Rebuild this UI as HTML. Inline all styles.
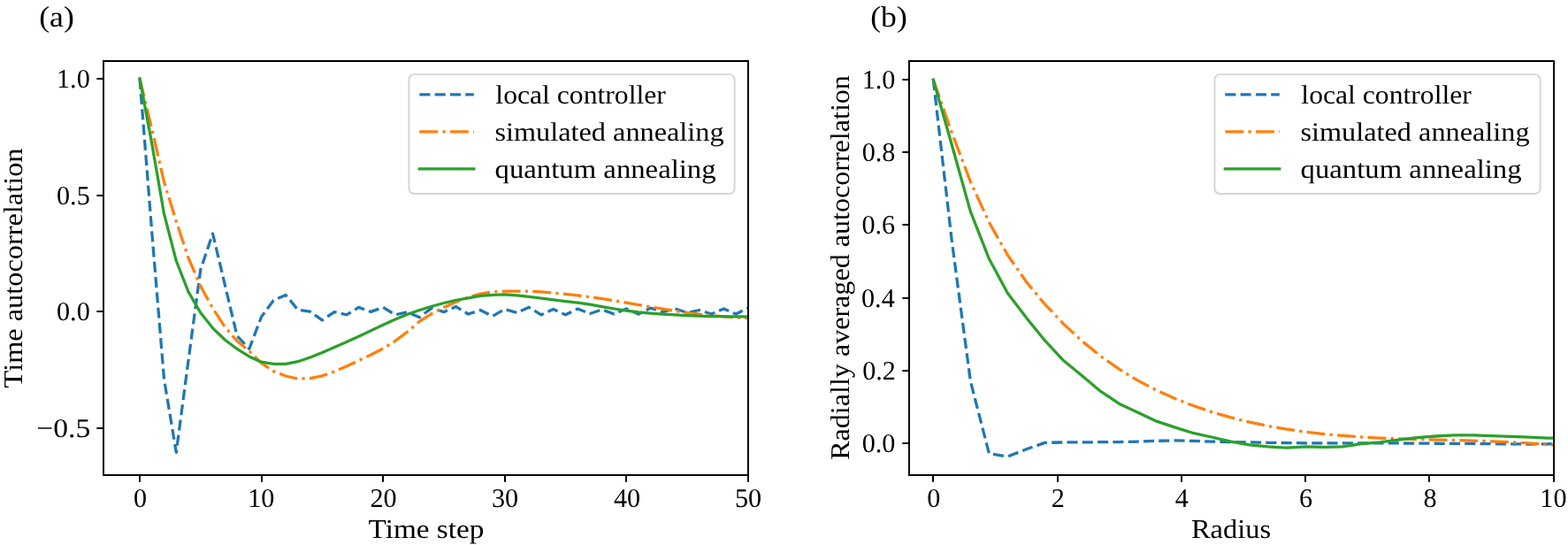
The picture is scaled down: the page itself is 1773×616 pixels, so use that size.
<!DOCTYPE html>
<html><head><meta charset="utf-8"><title>Autocorrelation plots</title>
<style>html,body{margin:0;padding:0;background:#fff;}svg{display:block;}</style>
</head><body>
<svg width="1773" height="616" viewBox="0 0 1773 616" text-rendering="geometricPrecision">
<rect width="1773" height="616" fill="#fff"/>
<defs><clipPath id="ca"><rect x="117.0" y="69.0" width="729.0" height="468.0"/></clipPath><clipPath id="cb"><rect x="1028.0" y="69.0" width="729.0" height="468.0"/></clipPath></defs>
<g clip-path="url(#ca)" fill="none" stroke-width="3.27">
<polyline points="158.00,88.90 171.76,262.61 185.51,428.43 199.27,511.34 213.02,407.37 226.78,304.72 240.54,263.93 254.29,321.83 268.05,379.74 281.80,394.21 295.56,358.15 309.32,339.47 323.07,333.41 336.83,350.26 350.58,352.10 364.34,361.84 378.10,352.63 391.85,355.78 405.61,347.36 419.36,352.36 433.12,347.36 446.88,355.78 460.63,352.63 474.39,358.68 488.14,348.15 501.90,352.63 515.66,346.57 529.41,355.00 543.17,350.52 556.92,357.36 570.68,349.47 584.44,353.42 598.19,347.36 611.95,355.78 625.70,349.47 639.46,355.78 653.22,348.94 666.97,354.47 680.73,349.99 694.48,355.00 708.24,348.94 722.00,355.00 735.75,348.15 749.51,352.63 763.26,348.94 777.02,353.42 790.78,350.52 804.53,355.00 818.29,348.94 832.04,355.00 845.80,348.15" stroke="#1f77b4" stroke-dasharray="12.08 5.22" stroke-linejoin="round" stroke-linecap="butt"/>
<polyline points="158.00,88.90 171.76,145.75 185.51,205.73 199.27,250.20 213.02,291.50 226.78,323.39 240.54,348.38 254.29,369.34 268.05,385.51 281.80,396.84 295.56,410.32 309.32,419.61 323.07,425.01 336.83,428.16 350.58,427.61 364.34,424.89 378.10,419.85 391.85,414.01 405.61,407.50 419.36,401.01 433.12,393.94 446.88,385.40 460.63,375.05 474.39,363.20 488.14,354.57 501.90,347.52 515.66,341.34 529.41,336.08 543.17,332.07 556.92,330.06 570.68,329.20 584.44,329.20 598.19,329.21 611.95,329.87 625.70,331.07 639.46,332.34 653.22,333.89 666.97,335.63 680.73,337.63 694.48,339.80 708.24,342.14 722.00,344.58 735.75,346.89 749.51,349.14 763.26,351.25 777.02,353.33 790.78,355.19 804.53,356.58 818.29,357.79 832.04,358.78 845.80,359.47" stroke="#ff7f0e" stroke-dasharray="20.90 5.22 3.27 5.22" stroke-linejoin="round" stroke-linecap="butt"/>
<polyline points="158.00,88.90 171.76,162.60 185.51,241.70 199.27,294.72 213.02,329.94 226.78,353.53 240.54,370.81 254.29,384.00 268.05,394.46 281.80,402.90 295.56,409.18 309.32,411.32 323.07,411.32 336.83,408.69 350.58,403.98 364.34,398.51 378.10,392.59 391.85,386.51 405.61,380.23 419.36,373.80 433.12,367.25 446.88,361.04 460.63,355.30 474.39,350.49 488.14,346.28 501.90,342.51 515.66,339.24 529.41,336.83 543.17,334.34 556.92,333.30 570.68,332.89 584.44,333.84 598.19,335.40 611.95,337.05 625.70,338.86 639.46,340.53 653.22,342.21 666.97,344.23 680.73,346.68 694.48,349.00 708.24,351.06 722.00,352.86 735.75,354.11 749.51,355.07 763.26,355.86 777.02,356.63 790.78,357.23 804.53,357.51 818.29,357.71 832.04,357.84 845.80,357.89" stroke="#2ca02c" stroke-linejoin="round" stroke-linecap="square"/>
</g>
<g clip-path="url(#cb)" fill="none" stroke-width="3.27">
<polyline points="1055.30,90.10 1076.34,272.86 1097.38,430.98 1118.42,512.71 1139.46,516.00 1160.49,507.78 1181.53,500.39 1202.57,499.98 1223.61,499.82 1244.65,499.72 1265.69,499.57 1286.73,499.04 1307.77,498.30 1328.81,497.93 1349.85,498.42 1370.88,499.16 1391.92,499.59 1412.96,499.97 1434.00,500.29 1455.04,500.60 1476.08,500.80 1497.12,500.80 1518.16,500.80 1539.20,500.80 1560.24,500.83 1581.27,500.95 1602.31,501.12 1623.35,501.25 1644.39,501.36 1665.43,501.47 1686.47,501.62 1707.51,501.91 1728.55,502.02 1749.59,501.77 1770.63,501.23" stroke="#1f77b4" stroke-dasharray="12.08 5.22" stroke-linejoin="round" stroke-linecap="butt"/>
<polyline points="1055.30,90.10 1076.34,150.14 1097.38,205.42 1118.42,251.38 1139.46,288.43 1160.49,318.53 1181.53,343.91 1202.57,366.13 1223.61,385.64 1244.65,402.64 1265.69,417.39 1286.73,430.16 1307.77,441.13 1328.81,450.57 1349.85,458.74 1370.88,465.85 1391.92,471.93 1412.96,477.14 1434.00,481.54 1455.04,485.19 1476.08,488.19 1497.12,490.57 1518.16,492.46 1539.20,493.94 1560.24,495.05 1581.27,495.87 1602.31,496.53 1623.35,497.06 1644.39,497.56 1665.43,498.09 1686.47,498.79 1707.51,499.65 1728.55,500.80 1749.59,502.32 1770.63,504.25" stroke="#ff7f0e" stroke-dasharray="20.90 5.22 3.27 5.22" stroke-linejoin="round" stroke-linecap="butt"/>
<polyline points="1055.30,90.10 1076.34,164.03 1097.38,239.18 1118.42,292.58 1139.46,331.59 1160.49,359.11 1181.53,384.98 1202.57,407.57 1223.61,424.82 1244.65,442.48 1265.69,456.44 1286.73,466.30 1307.77,476.16 1328.81,483.14 1349.85,489.71 1370.88,494.23 1391.92,499.16 1412.96,502.85 1434.00,504.91 1455.04,506.14 1476.08,504.91 1497.12,505.32 1518.16,504.91 1539.20,501.62 1560.24,499.98 1581.27,497.10 1602.31,494.64 1623.35,493.00 1644.39,491.76 1665.43,491.76 1686.47,492.59 1707.51,493.41 1728.55,494.23 1749.59,495.05 1770.63,495.46" stroke="#2ca02c" stroke-linejoin="round" stroke-linecap="square"/>
</g>
<rect x="117.0" y="69.0" width="729.00" height="468.00" fill="none" stroke="#000" stroke-width="2.0" stroke-linejoin="miter"/>
<rect x="1028.0" y="69.0" width="729.00" height="468.00" fill="none" stroke="#000" stroke-width="2.0" stroke-linejoin="miter"/>
<path d="M158,537.0v7.65 M296,537.0v7.65 M433,537.0v7.65 M571,537.0v7.65 M708,537.0v7.65 M846,537.0v7.65 M117.0,484h-7.65 M117.0,352h-7.65 M117.0,221h-7.65 M117.0,89h-7.65 M1055,537.0v7.65 M1196,537.0v7.65 M1336,537.0v7.65 M1476,537.0v7.65 M1616,537.0v7.65 M1757,537.0v7.65 M1028.0,501h-7.65 M1028.0,419h-7.65 M1028.0,337h-7.65 M1028.0,254h-7.65 M1028.0,172h-7.65 M1028.0,90h-7.65" stroke="#000" stroke-width="2.0" fill="none"/>
<g font-family="Liberation Serif, serif" fill="#000"><text x="150.95" y="572.90" font-size="30.2">0</text>
<text x="280.21" y="572.90" font-size="30.2">10</text>
<text x="418.43" y="572.90" font-size="30.2">20</text>
<text x="555.93" y="572.90" font-size="30.2">30</text>
<text x="693.92" y="572.90" font-size="30.2">40</text>
<text x="830.90" y="572.90" font-size="30.2">50</text>
<text x="1048.35" y="572.90" font-size="30.2">0</text>
<text x="1188.78" y="572.90" font-size="30.2">2</text>
<text x="1328.81" y="572.90" font-size="30.2">4</text>
<text x="1468.93" y="572.90" font-size="30.2">6</text>
<text x="1609.39" y="572.90" font-size="30.2">8</text>
<text x="1741.35" y="572.90" font-size="30.2">10</text>
<text x="64.00" y="98.90" font-size="30.2">1.0</text>
<text x="64.03" y="230.50" font-size="30.2">0.5</text>
<text x="64.00" y="362.10" font-size="30.2">0.0</text>
<text x="41.23" y="493.70" font-size="30.2" textLength="60.99" lengthAdjust="spacingAndGlyphs">−0.5</text>
<text x="974.70" y="100.10" font-size="30.2">1.0</text>
<text x="974.70" y="182.24" font-size="30.2">0.8</text>
<text x="974.45" y="264.38" font-size="30.2">0.6</text>
<text x="974.02" y="346.52" font-size="30.2">0.4</text>
<text x="975.22" y="428.66" font-size="30.2">0.2</text>
<text x="974.70" y="510.80" font-size="30.2">0.0</text>
<text x="416.50" y="607.90" font-size="30.4" textLength="130.98" lengthAdjust="spacingAndGlyphs">Time step</text>
<text x="1346.96" y="607.70" font-size="30.4" textLength="90.21" lengthAdjust="spacingAndGlyphs">Radius</text>
<text transform="rotate(-90)" x="-438.48" y="24.80" font-size="30.4" textLength="270.97" lengthAdjust="spacingAndGlyphs">Time autocorrelation</text>
<text transform="rotate(-90)" x="-519.82" y="960.00" font-size="30.4" textLength="434.71" lengthAdjust="spacingAndGlyphs">Radially averaged autocorrelation</text>
<text x="44.23" y="29.60" font-size="33" textLength="39.64" lengthAdjust="spacingAndGlyphs">(a)</text>
<text x="984.23" y="29.60" font-size="33" textLength="41.53" lengthAdjust="spacingAndGlyphs">(b)</text>
</g>
<rect x="462.4" y="84.1" width="368.20" height="134.90" rx="6" ry="6" fill="#fff" fill-opacity="0.8" stroke="#d5d5d5" stroke-width="1.95"/>
<line x1="474.3" y1="106.8" x2="535.8" y2="106.8" stroke="#1f77b4" stroke-width="3.27" stroke-dasharray="12.08 5.22"/>
<line x1="474.3" y1="148.8" x2="535.8" y2="148.8" stroke="#ff7f0e" stroke-width="3.27" stroke-dasharray="20.90 5.22 3.27 5.22"/>
<line x1="474.3" y1="190.8" x2="535.8" y2="190.8" stroke="#2ca02c" stroke-width="3.27" stroke-linecap="square"/>
<g font-family="Liberation Serif, serif" fill="#000">
<text x="560.37" y="117.00" font-size="29.8" textLength="192.51" lengthAdjust="spacingAndGlyphs">local controller</text>
<text x="559.48" y="158.90" font-size="29.8" textLength="259.14" lengthAdjust="spacingAndGlyphs">simulated annealing</text>
<text x="559.62" y="200.50" font-size="29.8" textLength="250.01" lengthAdjust="spacingAndGlyphs">quantum annealing</text>
</g>
<rect x="1373.4" y="84.1" width="368.20" height="134.90" rx="6" ry="6" fill="#fff" fill-opacity="0.8" stroke="#d5d5d5" stroke-width="1.95"/>
<line x1="1385.3" y1="106.8" x2="1446.8" y2="106.8" stroke="#1f77b4" stroke-width="3.27" stroke-dasharray="12.08 5.22"/>
<line x1="1385.3" y1="148.8" x2="1446.8" y2="148.8" stroke="#ff7f0e" stroke-width="3.27" stroke-dasharray="20.90 5.22 3.27 5.22"/>
<line x1="1385.3" y1="190.8" x2="1446.8" y2="190.8" stroke="#2ca02c" stroke-width="3.27" stroke-linecap="square"/>
<g font-family="Liberation Serif, serif" fill="#000">
<text x="1471.37" y="117.00" font-size="29.8" textLength="192.51" lengthAdjust="spacingAndGlyphs">local controller</text>
<text x="1470.48" y="158.90" font-size="29.8" textLength="259.14" lengthAdjust="spacingAndGlyphs">simulated annealing</text>
<text x="1470.62" y="200.50" font-size="29.8" textLength="250.01" lengthAdjust="spacingAndGlyphs">quantum annealing</text>
</g>
</svg>
</body></html>
